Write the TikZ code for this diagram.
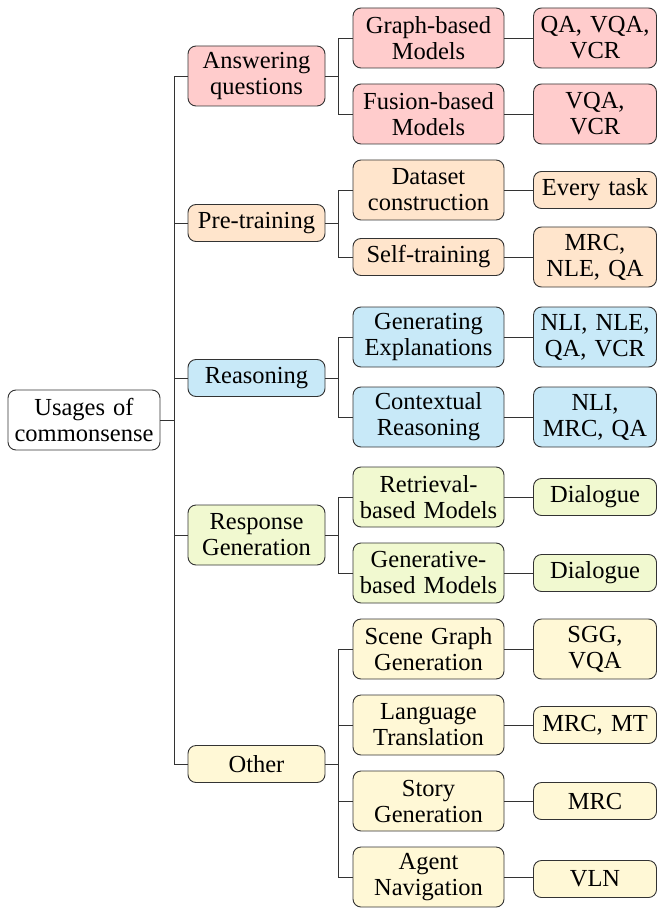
\documentclass[tikz,border=0pt]{standalone}
\usepackage{fontspec}
\setmainfont{Liberation Serif}
\definecolor{cA}{HTML}{FFCCCC}
\definecolor{cB}{HTML}{FFE5CC}
\definecolor{cC}{HTML}{C8E9F8}
\definecolor{cD}{HTML}{F1F9D0}
\definecolor{cE}{HTML}{FFF8D6}
\definecolor{bd}{HTML}{333333}
\begin{document}
\begin{tikzpicture}[x=1pt,y=-1pt,
  every node/.style={font=\fontsize{24.5}{26}\selectfont},
  bx/.style={draw=bd,line width=0.9pt,rounded corners=8pt,align=center,inner xsep=0pt,inner ysep=0pt,anchor=center},
  one/.style={bx,minimum height=37pt},
  two/.style={bx,minimum height=60pt},
  wr/.style={text width=152pt,minimum width=152pt},
  wa/.style={text width=137pt,minimum width=137pt},
  wb/.style={text width=151pt,minimum width=151pt},
  wc/.style={text width=123pt,minimum width=123pt},
  edge/.style={draw=bd,line width=0.9pt}]
\useasboundingbox (0,0) rectangle (658,909);
% root
\node[two,wr,fill=white] (root) at (84,420) {Usages of\\commonsense};
% level 1
\node[two,wa,fill=cA] (aq) at (256.5,76) {Answering\\questions};
\node[one,wa,fill=cB] (pt) at (256.5,223) {Pre-training};
\node[one,wa,fill=cC] (re) at (256.5,378) {Reasoning};
\node[two,wa,fill=cD] (rg) at (256.5,535) {Response\\Generation};
\node[one,wa,fill=cE] (ot) at (256.5,764) {Other};
% level 2
\node[two,wb,fill=cA] (gb) at (428.5,38) {Graph-based\\Models};
\node[two,wb,fill=cA] (fb) at (428.5,114) {Fusion-based\\Models};
\node[two,wb,fill=cB] (dc) at (428.5,190) {Dataset\\construction};
\node[one,wb,fill=cB] (st) at (428.5,257) {Self-training};
\node[two,wb,fill=cC] (ge) at (428.5,337) {Generating\\Explanations};
\node[two,wb,fill=cC] (cr) at (428.5,417) {Contextual\\Reasoning};
\node[two,wb,fill=cD] (rb) at (428.5,497) {Retrieval-\\based Models};
\node[two,wb,fill=cD] (gn) at (428.5,573) {Generative-\\based Models};
\node[two,wb,fill=cE] (sg) at (428.5,649) {Scene Graph\\Generation};
\node[two,wb,fill=cE] (lt) at (428.5,725) {Language\\Translation};
\node[two,wb,fill=cE] (sy) at (428.5,801) {Story\\Generation};
\node[two,wb,fill=cE] (an) at (428.5,877) {Agent\\Navigation};
% level 3
\node[two,wc,fill=cA] (t1) at (595,38) {QA, VQA,\\VCR};
\node[two,wc,fill=cA] (t2) at (595,114) {VQA,\\VCR};
\node[one,wc,fill=cB] (t3) at (595,190) {Every task};
\node[two,wc,fill=cB] (t4) at (595,257) {MRC,\\NLE, QA};
\node[two,wc,fill=cC] (t5) at (595,337) {NLI, NLE,\\QA, VCR};
\node[two,wc,fill=cC] (t6) at (595,417) {NLI,\\MRC, QA};
\node[one,wc,fill=cD] (t7) at (595,497) {Dialogue};
\node[one,wc,fill=cD] (t8) at (595,573) {Dialogue};
\node[two,wc,fill=cE] (t9) at (595,649) {SGG,\\VQA};
\node[one,wc,fill=cE] (t10) at (595,725) {MRC, MT};
\node[one,wc,fill=cE] (t11) at (595,801) {MRC};
\node[one,wc,fill=cE] (t12) at (595,879) {VLN};
% root edges
\foreach \c in {aq,pt,re,rg,ot}
  \draw[edge] (root.east) -- ++(14,0) |- (\c.west);
\foreach \p/\c in {aq/gb,aq/fb,pt/dc,pt/st,re/ge,re/cr,rg/rb,rg/gn,ot/sg,ot/lt,ot/sy,ot/an}
  \draw[edge] (\p.east) -- ++(13,0) |- (\c.west);
\foreach \a/\b in {gb/t1,fb/t2,dc/t3,st/t4,ge/t5,cr/t6,rb/t7,gn/t8,sg/t9,lt/t10,sy/t11,an/t12}
  \draw[edge] (\a.east) -- (\a.east -| \b.west);
\end{tikzpicture}
\end{document}
